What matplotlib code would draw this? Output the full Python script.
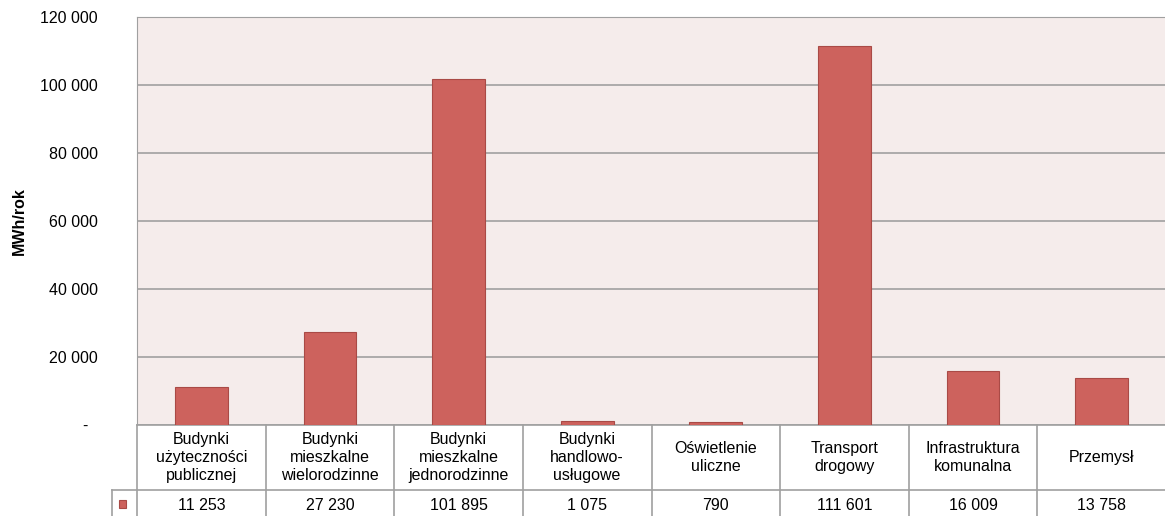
import numpy as np
import matplotlib.pyplot as plt
from matplotlib.patches import Rectangle

plt.rcParams['font.family'] = ['Liberation Sans', 'DejaVu Sans']

categories = ['Budynki\nużyteczności\npublicznej', 'Budynki\nmieszkalne\nwielorodzinne',
              'Budynki\nmieszkalne\njednorodzinne', 'Budynki\nhandlowo-\nusługowe',
              'Oświetlenie\nuliczne', 'Transport\ndrogowy',
              'Infrastruktura\nkomunalna', 'Przemysł']
values = [11253, 27230, 101895, 1075, 790, 111601, 16009, 13758]
yticks = [0, 20000, 40000, 60000, 80000, 100000, 120000]

bar_color = '#CD625D'
edge_color = '#A94A46'
line_color = '#A0A0A0'
fs = 11.5

def fmt(v):
    return '-' if v == 0 else f'{v:,}'.replace(',', ' ')

fig = plt.figure(figsize=(11.65, 5.16), dpi=100)
ax = fig.add_axes([137/1165, 91/516, 1029/1165, 408/516])
ax.set_facecolor('#F5ECEB')

x = np.arange(len(values))
ax.bar(x, values, width=0.41, color=bar_color, edgecolor=edge_color, linewidth=0.8, zorder=3)

ax.set_xlim(-0.5, len(values) - 0.5)
ax.set_ylim(0, 120000)
ax.set_yticks(yticks)
ax.set_yticklabels([fmt(t) for t in yticks], fontsize=fs)
ax.set_xticks([])
ax.tick_params(axis='y', length=0, pad=28)
# the zero label sits a bit left of the others
ax.get_yticklabels()[0].set_x(-0.01)
ax.yaxis.grid(True, color=line_color, linewidth=1.2, zorder=0)
for s in ['right', 'bottom']:
    ax.spines[s].set_visible(False)
ax.spines['left'].set_color(line_color)
ax.spines['top'].set_color(line_color)
ax.set_ylabel('MWh/rok', fontsize=fs, fontweight='bold', labelpad=10)

# data table under the plot
tr = ax.get_xaxis_transform()
row1 = -65/408
row2 = -0.26
key_left = -0.5 - 25/128.6
kw = dict(transform=tr, clip_on=False, color=line_color, linewidth=1.2)
ax.plot([-0.5, len(values) - 0.5], [0, 0], **kw)
ax.plot([key_left, len(values) - 0.5], [row1, row1], **kw)
for b in np.arange(len(values) + 1) - 0.5:
    ax.plot([b, b], [0, row2], **kw)
ax.plot([key_left, key_left], [row1, row2], **kw)

for xi, cat, v in zip(x, categories, values):
    ax.text(xi, row1 / 2, cat, transform=tr, ha='center', va='center',
            fontsize=fs, linespacing=1.22)
    ax.text(xi, -0.197, fmt(v), transform=tr, ha='center', va='center', fontsize=fs)

ax.add_patch(Rectangle((-0.0175, -0.203), 0.0072, 0.0185, transform=ax.transAxes,
                       facecolor=bar_color, edgecolor=edge_color, linewidth=0.8,
                       clip_on=False))

fig.savefig('out.png', dpi=100)
